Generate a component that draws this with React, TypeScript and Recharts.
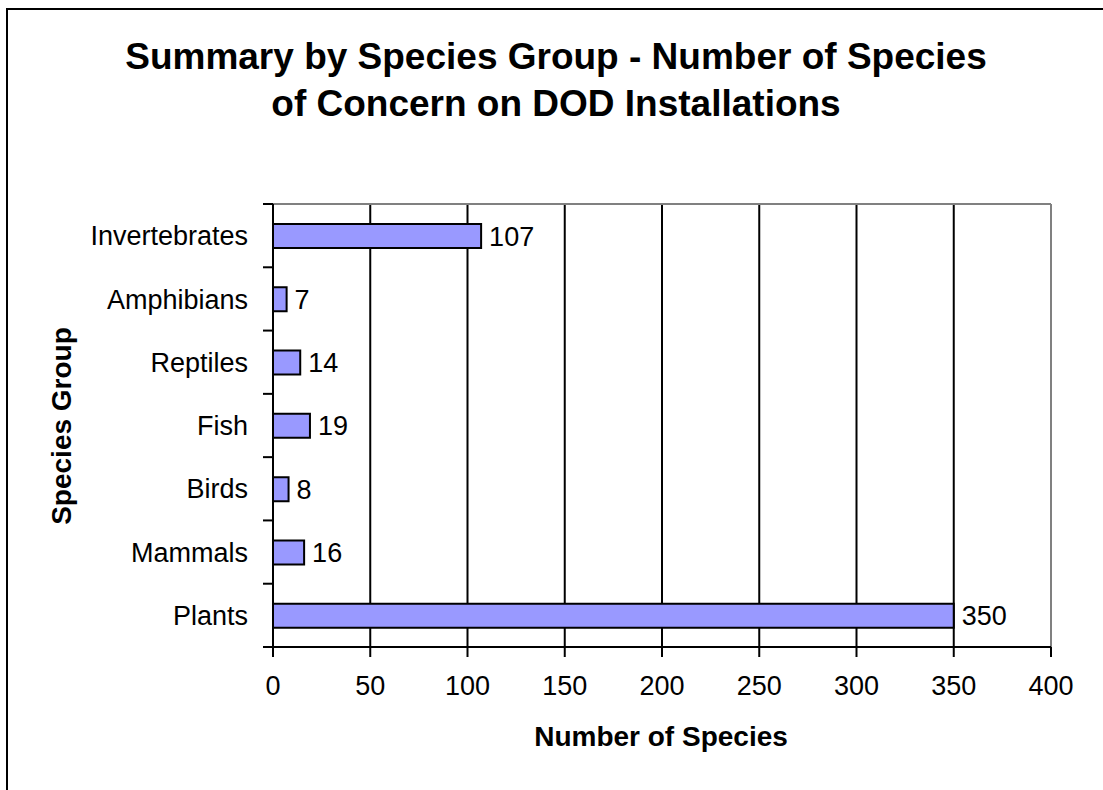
import React from 'react';
import { BarChart, Bar, XAxis, YAxis, CartesianGrid, LabelList, ReferenceLine } from 'recharts';

const categories = ['Invertebrates', 'Amphibians', 'Reptiles', 'Fish', 'Birds', 'Mammals', 'Plants'];
const speciesCounts = [107, 7, 14, 19, 8, 16, 350];
const xTicks = [0, 50, 100, 150, 200, 250, 300, 350, 400];
const titleLines = ['Summary by Species Group - Number of Species', 'of Concern on DOD Installations'];
const xTitle = 'Number of Species';
const yTitle = 'Species Group';

const data = categories.map((name, i) => ({ name, count: speciesCounts[i] }));

const FONT = 'Arial, "Liberation Sans", Helvetica, sans-serif';
const W = 1103;
const H = 790;
const TICK_FS = 27;

const YTick = (props: any) => {
  const { x, y, payload, index, visibleTicksCount } = props;
  const half = payload && payload.offset ? payload.offset : 443 / 14;
  const ax = x + 25;
  const last = index === (visibleTicksCount ?? categories.length) - 1;
  return (
    <g>
      <line x1={ax - 10} x2={ax} y1={y - half} y2={y - half} stroke="#000" strokeWidth={2} />
      {last && <line x1={ax - 10} x2={ax} y1={y + half} y2={y + half} stroke="#000" strokeWidth={2} />}
      <text x={x} y={y} dy="0.355em" textAnchor="end" fill="#000" fontSize={TICK_FS} fontFamily={FONT}>
        {payload.value}
      </text>
    </g>
  );
};

export default function App() {
  return (
    <div style={{ position: 'absolute', left: 0, top: 0, width: W, height: H, overflow: 'hidden', background: '#fff', fontFamily: FONT }}>
      <div style={{ position: 'absolute', left: 6, top: 8, width: 1200, height: 900, border: '2px solid #000', boxSizing: 'border-box' }} />
      <div style={{ position: 'absolute', left: 6, top: 33, width: 1100, textAlign: 'center', fontSize: 37, fontWeight: 'bold', lineHeight: '47px', color: '#000' }}>
        {titleLines.map((t) => (
          <div key={t}>{t}</div>
        ))}
      </div>
      <div style={{ position: 'absolute', left: 0, top: 0 }}>
        <BarChart
          width={W}
          height={H}
          data={data}
          layout="vertical"
          margin={{ top: 204, right: 52, bottom: 83, left: 0 }}
          barCategoryGap={0}
        >
          <CartesianGrid horizontal={false} vertical stroke="#000" strokeWidth={2} />
          <CartesianGrid
            vertical={false}
            horizontal
            stroke="#808080"
            strokeWidth={2}
            horizontalCoordinatesGenerator={({ offset }: any) => [offset.top]}
          />
          <XAxis
            type="number"
            domain={[0, 400]}
            ticks={xTicks}
            interval={0}
            height={60}
            tickSize={10}
            tickMargin={19}
            axisLine={{ stroke: '#000', strokeWidth: 2 }}
            tickLine={{ stroke: '#000', strokeWidth: 2 }}
            tick={{ fill: '#000', fontSize: TICK_FS, fontFamily: FONT }}
          />
          <YAxis
            type="category"
            dataKey="name"
            width={273}
            interval={0}
            tickLine={false}
            tickSize={0}
            tickMargin={25}
            axisLine={{ stroke: '#000', strokeWidth: 2 }}
            tick={<YTick />}
          />
          <ReferenceLine x={400} stroke="#808080" strokeWidth={2} />
          <Bar
            dataKey="count"
            barSize={24}
            fill="#9999FF"
            stroke="#000"
            strokeWidth={2}
            isAnimationActive={false}
          >
            <LabelList dataKey="count" position="right" offset={8} fill="#000" fontSize={TICK_FS} fontFamily={FONT} />
          </Bar>
        </BarChart>
      </div>
      <div style={{ position: 'absolute', left: 661, top: 737, transform: 'translate(-50%, -50%)', whiteSpace: 'nowrap', fontSize: 28, fontWeight: 'bold', color: '#000' }}>
        {xTitle}
      </div>
      <div style={{ position: 'absolute', left: 62, top: 426, transform: 'translate(-50%, -50%) rotate(-90deg)', whiteSpace: 'nowrap', fontSize: 28, fontWeight: 'bold', color: '#000' }}>
        {yTitle}
      </div>
    </div>
  );
}
